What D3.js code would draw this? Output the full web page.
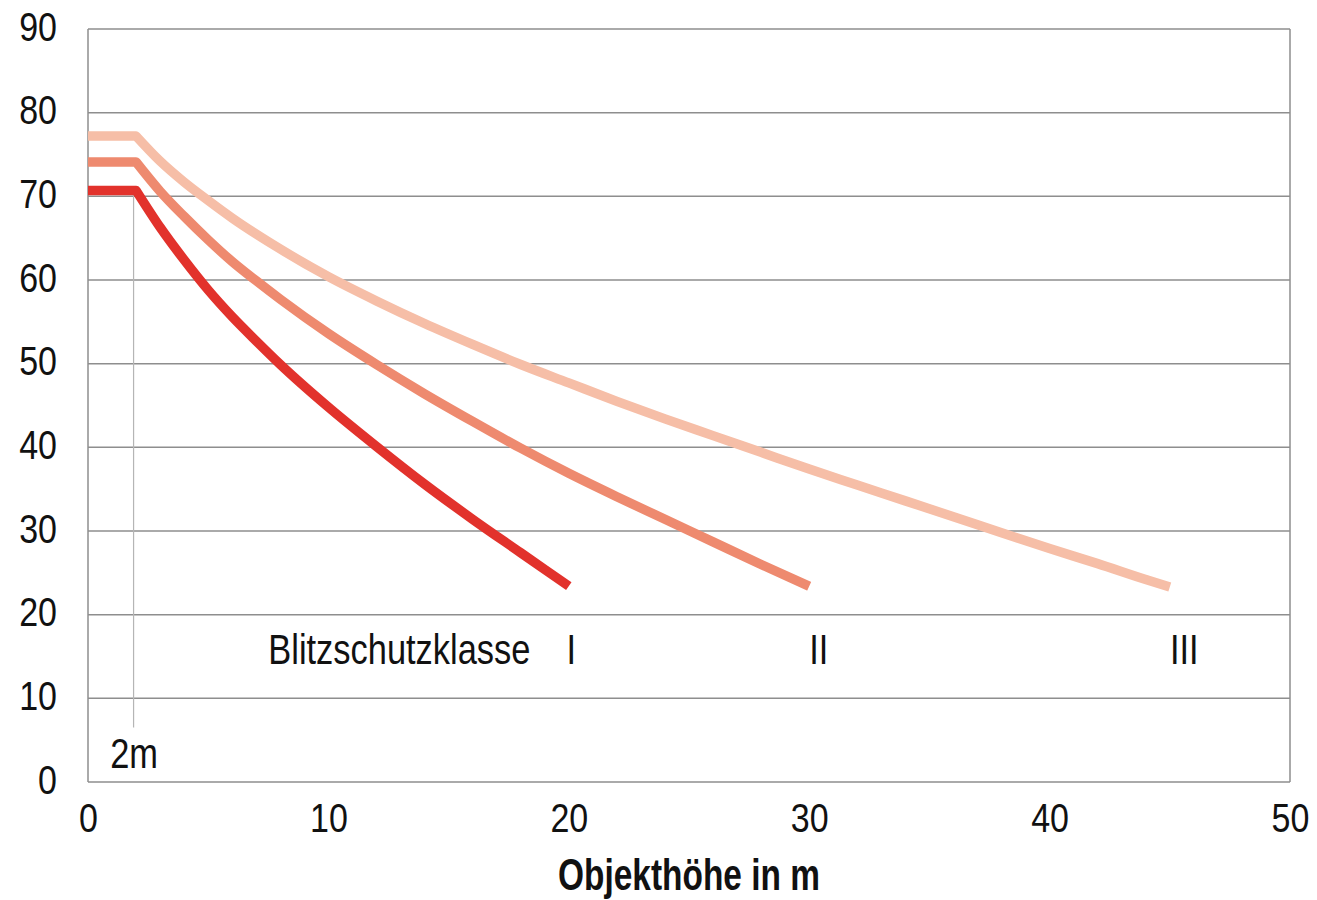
<!DOCTYPE html>
<html>
<head>
<meta charset="utf-8">
<script src="https://cdn.jsdelivr.net/npm/d3@7"></script>
<style>
  body { margin: 0; background: #fff; }
  svg text { font-family: "Liberation Sans", Arial, sans-serif; fill: #111; }
</style>
</head>
<body>
<div id="chart"></div>
<script>
// heights (m) and angles, one pair of arrays per class
var class1X = [0, 2, 3, 4, 5, 6, 7, 8, 10, 12, 14, 16, 18, 20];
var class1Y = [70.7, 70.7, 66.3, 62.4, 58.8, 55.6, 52.7, 49.9, 44.8, 40.1, 35.6, 31.4, 27.4, 23.4];

var class2X = [0, 2, 3, 4, 5, 6, 7, 8, 10, 12, 14, 16, 18, 20, 22, 24, 26, 28, 30];
var class2Y = [74.1, 74.1, 70.6, 67.6, 64.8, 62.2, 59.9, 57.7, 53.6, 49.9, 46.4, 43.1, 39.9, 36.9, 34.1, 31.4, 28.7, 26.0, 23.4];

var class3X = [0, 2, 3, 4, 5, 6, 8, 10, 12, 14, 16, 18, 20, 22, 24, 26, 28, 30, 32, 34, 36, 38, 40, 42, 44, 45];
var class3Y = [77.2, 77.2, 74.2, 71.7, 69.5, 67.4, 63.7, 60.4, 57.5, 54.8, 52.3, 49.9, 47.7, 45.5, 43.4, 41.4, 39.4, 37.4, 35.5, 33.6, 31.7, 29.8, 27.9, 26.1, 24.2, 23.3];

var classNames = ["I", "II", "III"];
var classLabelX = [20.1, 30.4, 45.6];
var classColors = ["#e2322c", "#ee8a6f", "#f6bea7"];

var xTicks = [0, 10, 20, 30, 40, 50];
var yTicks = [0, 10, 20, 30, 40, 50, 60, 70, 80, 90];

var markX = 2;          // the "2m" marker
var markTop = 70.7, markBottom = 6.5;

var margin = {top: 29, right: 27, bottom: 118, left: 88},
    width = 1317 - margin.left - margin.right,
    height = 900 - margin.top - margin.bottom;

var svg = d3.select("#chart")
  .append("svg")
    .attr("width", 1317)
    .attr("height", 900)
  .append("g")
    .attr("transform", "translate(" + margin.left + "," + margin.top + ")");

var x = d3.scaleLinear().domain([0, 50]).range([0, width]);
var y = d3.scaleLinear().domain([0, 90]).range([height, 0]);

// condensed look: squeeze the text sideways around its anchor
function narrowText(px, py, str, size, sx, anchor, weight) {
  svg.append("g")
    .attr("transform", "translate(" + px + "," + py + ")")
    .append("text")
      .attr("transform", "scale(" + sx + ",1)")
      .attr("text-anchor", anchor)
      .style("font-size", size + "px")
      .style("font-weight", weight || "normal")
      .text(str);
}

// horizontal grid
svg.append("g")
  .selectAll("line")
  .data(yTicks)
  .enter().append("line")
    .attr("x1", 0).attr("x2", width)
    .attr("y1", function(d) { return y(d); })
    .attr("y2", function(d) { return y(d); })
    .attr("stroke", "#8e8e8e")
    .attr("stroke-width", 1.5);

// side borders
svg.append("g")
  .selectAll("line")
  .data([0, 50])
  .enter().append("line")
    .attr("x1", function(d) { return x(d); })
    .attr("x2", function(d) { return x(d); })
    .attr("y1", y(0)).attr("y2", y(90))
    .attr("stroke", "#8e8e8e")
    .attr("stroke-width", 1.5);

// 2m marker
svg.append("line")
  .attr("x1", x(markX) - 2.5).attr("x2", x(markX) - 2.5)
  .attr("y1", y(markTop)).attr("y2", y(markBottom))
  .attr("stroke", "#b5b5b5")
  .attr("stroke-width", 1.2);

narrowText(x(markX) - 2, y(0) - 14, "2m", 42, 0.82, "middle");

// Y axis labels
var yAxis = svg.append("g")
  .call(d3.axisLeft(y).tickValues(yTicks).tickSize(0).tickPadding(36.5));
yAxis.select(".domain").remove();
yAxis.selectAll("text")
  .attr("dy", "0.28em")
  .attr("transform", "scale(0.85,1)")
  .style("font-size", "40px");

// X axis labels
var xAxis = svg.append("g")
  .attr("transform", "translate(0," + height + ")")
  .call(d3.axisBottom(x).tickValues(xTicks).tickSize(0).tickPadding(22));
xAxis.select(".domain").remove();
xAxis.selectAll("text")
  .attr("transform", "scale(0.85,1)")
  .style("font-size", "40px");

narrowText(x(25), height + 108, "Objekthöhe in m", 44, 0.76, "middle", "bold");

// curves: flat part straight, the fall smooth
var series = [
  d3.zip(class1X, class1Y),
  d3.zip(class2X, class2Y),
  d3.zip(class3X, class3Y)
];

var flatLine = d3.line()
  .x(function(d) { return x(d[0]); })
  .y(function(d) { return y(d[1]); });

var fallLine = d3.line()
  .curve(d3.curveMonotoneX)
  .x(function(d) { return x(d[0]); })
  .y(function(d) { return y(d[1]); });

for (i = series.length - 1; i >= 0; i--) {
  var d = flatLine(series[i].slice(0, 2)) + fallLine(series[i].slice(1)).replace(/^M/, "L");
  svg.append("path")
    .attr("fill", "none")
    .attr("stroke", classColors[i])
    .attr("stroke-width", 9.5)
    .attr("stroke-linejoin", "round")
    .attr("d", d);
}

// class labels
narrowText(x(7.5), y(14.1), "Blitzschutzklasse", 42, 0.82, "start");
for (i = 0; i < classNames.length; i++) {
  narrowText(x(classLabelX[i]), y(14.1), classNames[i], 42, 0.82, "middle");
}
</script>
</body>
</html>
